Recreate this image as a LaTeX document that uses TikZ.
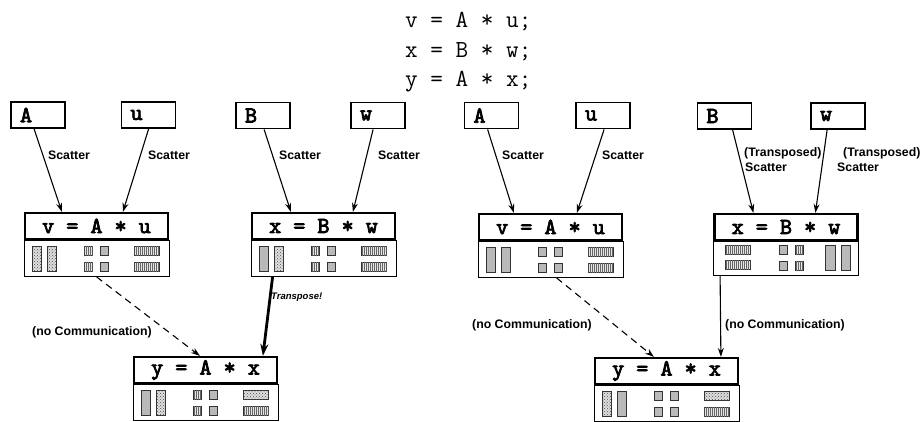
\documentclass[tikz,border=0pt]{standalone}
\usepackage{fontspec}
\newfontfamily\labsans{Liberation Sans}
\newfontfamily\boxmono[AutoFakeBold=3.2]{lmmono10-regular.otf}
\usetikzlibrary{arrows.meta,patterns,patterns.meta,calc}
\newcommand{\layoutL}[6]{%
  \draw[#1] (9,6) rectangle (18,31);
  \draw[#2] (24,6) rectangle (33,31);
  \draw[#3] (61,6) rectangle (69,15);
  \draw[#3] (61,22) rectangle (69,31);
  \draw[#4] (77,6) rectangle (85,15);
  \draw[#4] (77,22) rectangle (85,31);
  \draw[#5] (111,6) rectangle (136,15);
  \draw[#6] (111,22) rectangle (136,31);}
\newcommand{\layoutR}[6]{%
  \draw[#1] (12,4) rectangle (37,13);
  \draw[#2] (12,19) rectangle (37,28);
  \draw[#3] (66,4) rectangle (74,13);
  \draw[#3] (66,20) rectangle (74,29);
  \draw[#4] (82,4) rectangle (90,13);
  \draw[#4] (82,20) rectangle (90,29);
  \draw[#5] (112,4) rectangle (122,29);
  \draw[#6] (128,4) rectangle (137,29);}
\begin{document}
\begin{tikzpicture}[x=1pt,y=-1pt,
  varbox/.style={draw, line width=1.8pt, minimum width=54pt, minimum height=26pt, inner sep=0pt,
     text width=36pt, align=left, font=\boxmono\bfseries\fontsize{23}{23}\selectfont},
  eqbox/.style={draw, line width=2.2pt, minimum width=143pt, minimum height=26pt, inner sep=0pt,
     font=\boxmono\bfseries\fontsize{23}{23}\selectfont},
  panel/.style={draw, line width=0.8pt, minimum width=145pt, minimum height=#1, anchor=north, inner sep=0pt},
  panel/.default=36pt,
  arr/.style={-{Stealth[length=9pt,width=6pt]}, line width=1.1pt},
  dasharr/.style={arr, dash pattern=on 7pt off 5pt},
  thickarr/.style={-{Stealth[length=12pt,width=8pt]}, line width=2.8pt},
  lab/.style={font=\labsans\bfseries\fontsize{12.3}{13}\selectfont, inner sep=0pt, anchor=west},
  code/.style={font=\ttfamily\fontsize{24.5}{24.5}\selectfont, inner sep=0pt, anchor=base west},
  gr/.style={draw=black!80, line width=0.5pt, fill=gray!55},
  dt/.style={draw=black!80, line width=0.5pt, fill=gray!25, postaction={pattern=crosshatch dots, pattern color=black!70}},
  st/.style={draw=black!80, line width=0.5pt, fill=gray!20, postaction={pattern={Lines[angle=90,distance=2pt,line width=0.6pt]}, pattern color=black!60}}
]
\useasboundingbox (0,0) rectangle (924,422);

% code
\node[code] (c1) at (405,28) {v = A * u;};
\node[code] (c2) at (405,58) {x = B * w;};
\node[code] (c3) at (405,87) {y = A * x;};

% ---------- left group ----------
\node[varbox] (A1) at (38,115) {A};
\node[varbox] (u1) at (148.5,115) {u};
\node[varbox] (B1) at (263,115.5) {B};
\node[varbox] (w1) at (378,115.5) {w};

\node[eqbox] (v1) at (96.5,226) {v = A * u};
\node[panel] (v1p) at (v1.south) {};
\node[eqbox] (x1) at (323.5,226) {x = B * w};
\node[panel] (x1p) at (x1.south) {};
\node[eqbox] (y1) at (205.5,370) {y = A * x};
\node[panel] (y1p) at (y1.south) {};

\begin{scope}[shift={(v1p.north west)}]\layoutL{dt}{dt}{st}{gr}{st}{st}\end{scope}
\begin{scope}[shift={(x1p.north west)}]\layoutL{gr}{dt}{st}{gr}{st}{st}\end{scope}
\begin{scope}[shift={(y1p.north west)}]\layoutL{gr}{dt}{st}{gr}{dt}{st}\end{scope}

\draw[arr] ([xshift=24pt]A1.south west) -- ([xshift=38pt]v1.north west);
\draw[arr] ([xshift=28pt]u1.south west) -- ([xshift=99pt]v1.north west);
\draw[arr] ([xshift=29pt]B1.south west) -- ([xshift=40pt]x1.north west);
\draw[arr] ([xshift=23pt]w1.south west) -- ([xshift=102pt]x1.north west);
\node[lab] (s1) at (48,155) {Scatter};
\node[lab] (s2) at (148,155) {Scatter};
\node[lab] (s3) at (279,155) {Scatter};
\node[lab] (s4) at (378,155) {Scatter};

\draw[dasharr] ([xshift=73pt]v1p.south west) -- ([xshift=67pt]y1.north west);
\draw[thickarr] ([xshift=22pt]x1p.south west) -- ([xshift=130pt]y1.north west);
\node[lab] (nc1) at (32,332) {(no Communication)};
\node[lab, font=\labsans\bfseries\itshape\fontsize{9.5}{12}\selectfont] (tr) at (271,297) {Transpose!};

% ---------- right group ----------
\node[varbox] (A2) at (491.5,115.5) {A};
\node[varbox] (u2) at (603,115.5) {u};
\node[varbox] (B2) at (724.5,116) {B};
\node[varbox] (w2) at (838,116) {w};

\node[eqbox] (v2) at (550.5,227) {v = A * u};
\node[panel] (v2p) at (v2.south) {};
\node[eqbox] (x2) at (786,227) {x = B * w};
\node[panel=34pt] (x2p) at (x2.south) {};
\node[eqbox] (y2) at (666.5,371) {y = A * x};
\node[panel] (y2p) at (y2.south) {};

\begin{scope}[shift={(v2p.north west)}]\layoutL{gr}{gr}{gr}{gr}{st}{st}\end{scope}
\begin{scope}[shift={(x2p.north west)}]\layoutR{st}{st}{gr}{st}{gr}{gr}\end{scope}
\begin{scope}[shift={(y2p.north west)}]\layoutL{dt}{gr}{gr}{gr}{dt}{st}\end{scope}

\draw[arr] ([xshift=24pt]A2.south west) -- ([xshift=36pt]v2.north west);
\draw[arr] ([xshift=29pt]u2.south west) -- ([xshift=99pt]v2.north west);
\draw[arr] ([xshift=36pt]B2.south west) -- ([xshift=40pt]x2.north west);
\draw[arr] ([xshift=17pt]w2.south west) -- ([xshift=102pt]x2.north west);
\node[lab] (s5) at (502,155) {Scatter};
\node[lab] (s6) at (602,155) {Scatter};
\node[lab] (t1) at (744,153) {(Transposed)};
\node[lab] (s7) at (745,167) {Scatter};
\node[lab] (t2) at (843,153) {(Transposed)};
\node[lab] (s8) at (837,167) {Scatter};

\draw[dasharr] ([xshift=79pt]v2p.south west) -- ([xshift=60pt]y2.north west);
\draw[arr] ([xshift=7pt]x2p.south west) -- ([xshift=127pt]y2.north west);
\node[lab] (nc2) at (472,325) {(no Communication)};
\node[lab] (nc3) at (725,325) {(no Communication)};
\end{tikzpicture}
\end{document}
